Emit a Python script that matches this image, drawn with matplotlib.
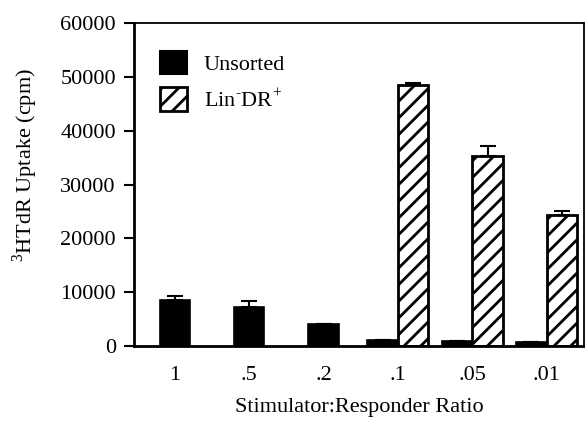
import numpy as np
import matplotlib
matplotlib.use("Agg")
import matplotlib.pyplot as plt
from matplotlib.patches import Patch

plt.rcParams['font.family'] = ['Liberation Serif', 'DejaVu Serif']
plt.rcParams['mathtext.fontset'] = 'custom'
plt.rcParams['mathtext.rm'] = 'Liberation Serif'
plt.rcParams['hatch.linewidth'] = 2.0

categories = ['1', '.5', '.2', '.1', '.05', '.01']
unsorted = [8500, 7300, 4100, 1100, 900, 700]
unsorted_err = [800, 1100, 0, 0, 0, 0]
lin_dr = [np.nan, np.nan, np.nan, 48500, 35300, 24300]
lin_dr_err = [np.nan, np.nan, np.nan, 400, 1800, 800]
yticks = [0, 10000, 20000, 30000, 40000, 50000, 60000]

FS = 16
fig = plt.figure(figsize=(5.85, 4.21), dpi=100)
ax = fig.add_axes([0.229, 0.178, 0.769, 0.767])

w = 0.41
x = np.arange(len(categories))
has_lin = ~np.isnan(np.array(lin_dr, dtype=float))
x_uns = np.where(has_lin, x - w / 2, x)
x_lin = x + w / 2

ekw = dict(ecolor='black', elinewidth=1.5, capsize=5.5, capthick=1.5)
ax.bar(x_uns, unsorted, width=w, color='black', edgecolor='black', linewidth=1.2,
       yerr=[np.zeros(len(unsorted)), unsorted_err], error_kw=ekw)
ax.bar(x_lin[has_lin], np.array(lin_dr)[has_lin], width=w, color='white', edgecolor='black',
       linewidth=2.0, hatch='//',
       yerr=[np.zeros(has_lin.sum()), np.array(lin_dr_err)[has_lin]], error_kw=ekw)

ax.set_xlim(-0.55, 5.5)
ax.set_ylim(0, 60000)
ax.set_yticks(yticks)
ax.set_yticklabels([str(t) for t in yticks])
ax.set_xticks(x)
ax.set_xticklabels(categories)
ax.tick_params(axis='y', direction='out', length=7, width=1.5, labelsize=FS, pad=6)
ax.tick_params(axis='x', length=0, labelsize=FS, pad=14)
for s in ['left', 'bottom']:
    ax.spines[s].set_linewidth(2.0)
for s in ['top', 'right']:
    ax.spines[s].set_linewidth(1.3)

fig.text(25 / 585, 1 - 165 / 421, r'$^{3}$HTdR Uptake (cpm)', fontsize=FS,
         rotation=90, ha='center', va='center')
ax.set_xlabel('Stimulator:Responder Ratio', fontsize=FS, labelpad=10)

handles = [Patch(facecolor='black', edgecolor='black', linewidth=1.5),
           Patch(facecolor='white', edgecolor='black', linewidth=2.0, hatch='//')]
ax.legend(handles, ['Unsorted', r'Lin$^{\text{-}}$DR$^{+}$'], loc='upper left',
          bbox_to_anchor=(0.013, 0.977), frameon=False, fontsize=FS,
          handlelength=1.22, handleheight=1.25, handletextpad=0.75, labelspacing=0.55)

fig.savefig('out.png', dpi=100)
